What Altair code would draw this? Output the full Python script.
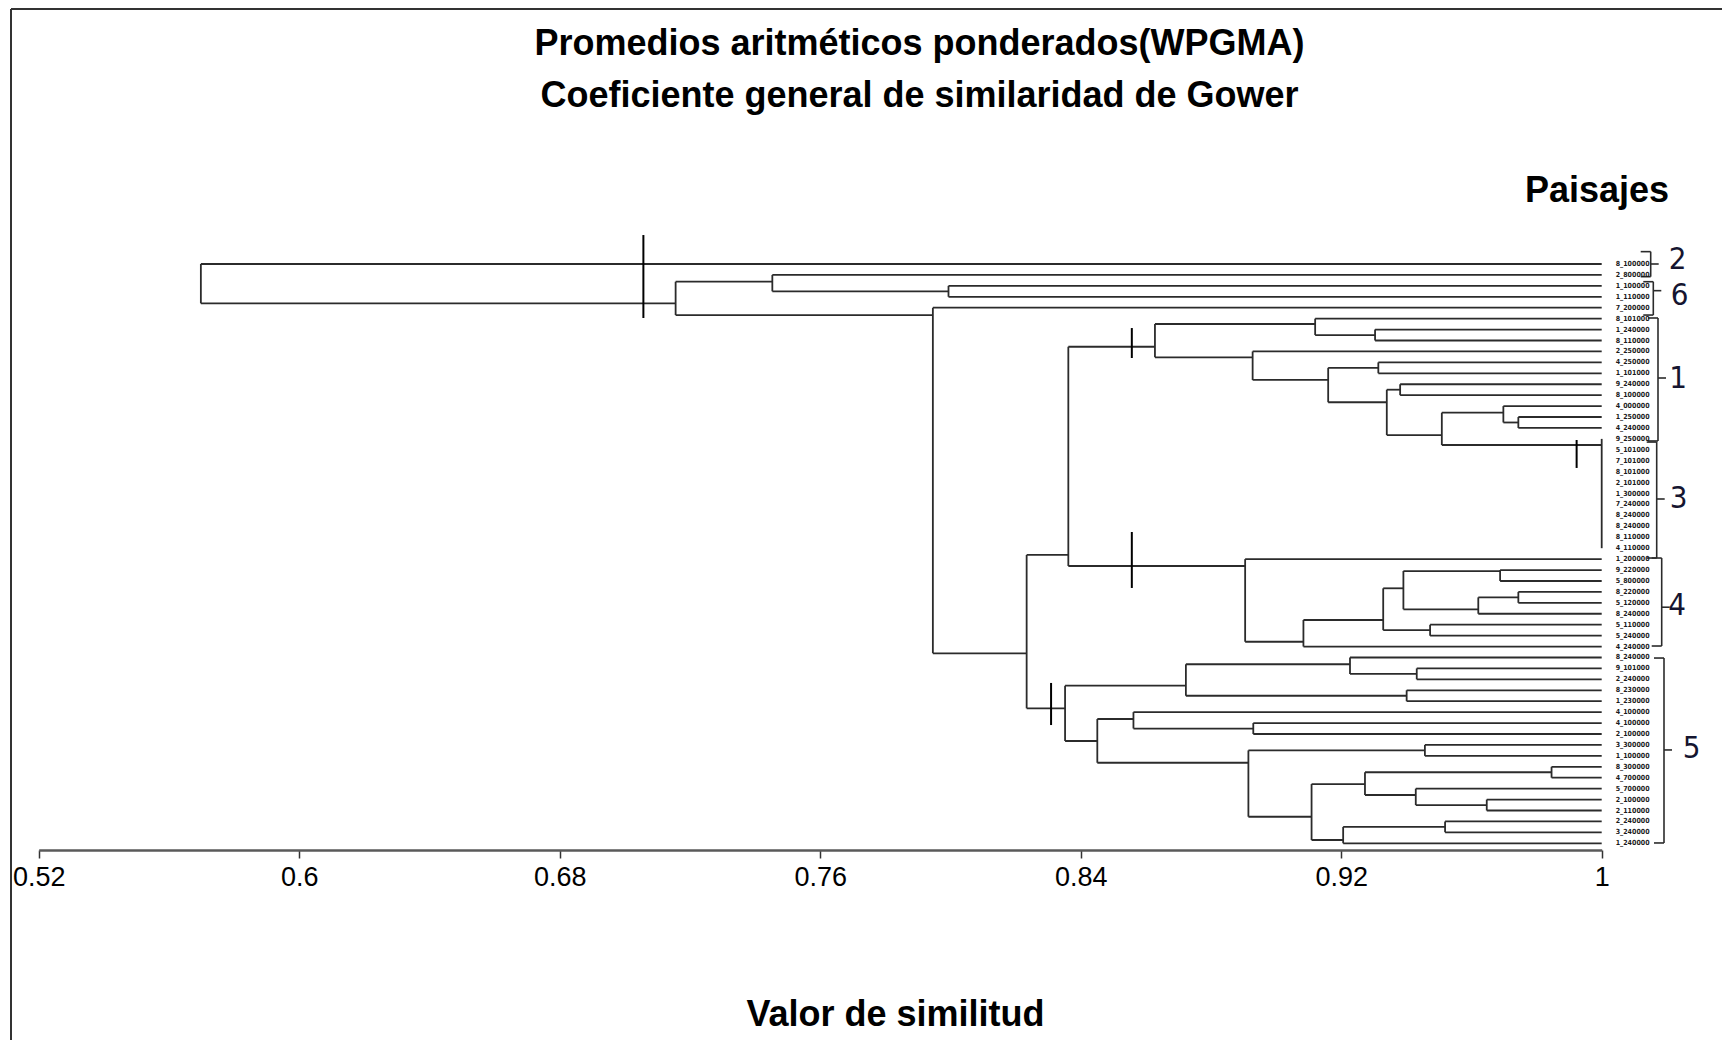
import altair as alt
import pandas as pd

# ---------------- data ----------------
title_lines = ["Promedios aritméticos ponderados(WPGMA)",
               "Coeficiente general de similaridad de Gower"]
x_title = "Valor de similitud"
legend_title = "Paisajes"
x_ticks = [0.52, 0.6, 0.68, 0.76, 0.84, 0.92, 1.0]

leaf_labels = [
    "8_100000", "2_800000", "1_100000", "1_110000", "7_200000", "8_101000",
    "1_240000", "8_110000", "2_250000", "4_250000", "1_101000", "9_240000",
    "8_100000", "4_000000", "1_250000", "4_240000", "9_250000", "5_101000",
    "7_101000", "8_101000", "2_101000", "1_300000", "7_240000", "8_240000",
    "8_240000", "8_110000", "4_110000", "1_200000", "9_220000", "5_800000",
    "8_220000", "5_120000", "8_240000", "5_110000", "5_240000", "4_240000",
    "8_240000", "9_101000", "2_240000", "8_230000", "1_230000", "4_100000",
    "4_100000", "2_100000", "3_300000", "1_100000", "8_300000", "4_700000",
    "5_700000", "2_100000", "2_110000", "2_240000", "3_240000", "1_240000",
]

# internal nodes: name, similarity level of the merge, children (leaf index or node),
# vertical position where the branch leaves the node (in leaf-row units)
node_names = ["root", "n1", "n2", "n3", "n4", "n5", "n6",
              "g13", "p1", "p2", "p3", "p4", "p5", "p6", "p7", "p8", "p9", "p10", "id3",
              "g4", "q1", "q2", "q3", "q4", "q5", "q6", "q7",
              "g5", "r1", "r2", "r3", "r4", "r5", "r6", "r7", "r8", "r9", "r10",
              "r11", "r12", "r13", "r14", "r15", "r16"]
node_heights = [0.5698, 0.7156, 0.7453, 0.7994, 0.7946, 0.8234, 0.8362,
                0.8628, 0.9120, 0.9304, 0.8928, 0.9160, 0.9314, 0.9340, 0.9381, 0.9509, 0.9698, 0.9744, 1.0,
                0.8905, 0.9084, 0.9329, 0.9391, 0.9688, 0.9621, 0.9744, 0.9473,
                0.8352, 0.8723, 0.9227, 0.9432, 0.9401, 0.8451, 0.8562, 0.8930, 0.8915, 0.9457, 0.9109,
                0.9273, 0.9846, 0.9429, 0.9647, 0.9206, 0.9519]
node_children = [[0, "n1"], ["n2", "n4"], [1, "n3"], [2, 3], [4, "n5"], ["n6", "g5"], ["g13", "g4"],
                 ["p1", "p3"], [5, "p2"], [6, 7], [8, "p4"], ["p5", "p6"], [9, 10], ["p7", "p8"],
                 [11, 12], ["p9", "id3"], [13, "p10"], [14, 15], list(range(16, 27)),
                 [27, "q1"], ["q2", 35], ["q3", "q7"], ["q4", "q5"], [28, 29], ["q6", 32], [30, 31], [33, 34],
                 ["r1", "r5"], ["r2", "r4"], [36, "r3"], [37, 38], [39, 40], ["r6", "r8"], [41, "r7"],
                 [42, 43], ["r9", "r10"], [44, 45], ["r11", "r15"], ["r12", "r13"], [46, 47],
                 [48, "r14"], [49, 50], ["r16", 53], [51, 52]]
node_ypos = [None, 3.6, 1.62, 2.5, 4.67, 35.62, 26.62,
             7.57, 5.49, 6.5, 8.54, 10.61, 9.5, 12.65, 11.5, 15.65, 13.6, 14.5, 16.56,
             27.63, 34.56, 32.57, 29.67, 28.09, 31.59, 30.5, 33.5,
             40.65, 38.58, 36.62, 37.5, 39.5, 43.64, 41.63, 42.5, 45.63, 44.5, 50.57,
             47.58, 46.5, 48.58, 49.5, 52.7, 51.5]

# cut marks (short vertical bars crossing branches)
cut_levels = [0.7057, 0.8557, 0.8557, 0.8309, 0.9923]
cut_from = [-2.65, 5.86, 24.52, 38.33, 16.1]
cut_to = [4.94, 8.6, 29.64, 42.18, 18.66]

# landscape groups (brackets on the right)
group_names = ["2", "6", "1", "3", "4", "5"]
group_top = [-1.13, 1.62, 4.94, 16.29, 26.9, 36.05]
group_bottom = [1.16, 4.67, 16.19, 26.9, 34.95, 52.97]
group_mid = [0.0, 2.44, 10.43, 21.5, 31.4, 44.46]
group_label_y = [-0.35, 2.9, 10.5, 21.5, 31.3, 44.4]

# ---------------- layout / style ----------------
X0_PX, X1_PX = 30.7, 1593.7           # pixel range for 0.52 .. 1.0
Y0_PX, Y1_PX = 256.0, 835.3           # pixel range for leaf rows 0 .. 53
PX_PER_UNIT = (X1_PX - X0_PX) / (x_ticks[-1] - x_ticks[0])
bracket_dx = [49, 51.6, 56.3, 55, 60, 62.3]     # px right of the leaf ends
label_dx = [76, 78, 76.3, 76.8, 75.3, 90]
HOOK, POINT = 10, 8

BOLD_FONT = "Liberation Sans"
NARROW_FONT = "'Liberation Sans Narrow', 'Arial Narrow', 'DejaVu Sans Condensed', sans-serif"
LINE = "#2b2b2b"

def pxv(px):
    return px / PX_PER_UNIT

# ---------------- build segments ----------------
pos = {i: (1.0, float(i)) for i in range(len(leaf_labels))}
for n, h, yp in zip(node_names, node_heights, node_ypos):
    pos[n] = (h, yp)

seg = []
for n, h, ch in zip(node_names, node_heights, node_children):
    ys = [pos[c][1] for c in ch]
    seg.append(dict(x=h, x2=h, y=min(ys), y2=max(ys)))
    for c in ch:
        cx, cy = pos[c]
        if abs(cx - h) > 1e-9:
            seg.append(dict(x=cx, x2=h, y=cy, y2=cy))
seg_df = pd.DataFrame(seg)

leaf_df = pd.DataFrame({"label": leaf_labels, "y": list(range(len(leaf_labels))),
                        "x": [1.0] * len(leaf_labels)})
cut_df = pd.DataFrame({"x": cut_levels, "y": cut_from, "y2": cut_to})

br = []
lab = []
for g, t, b, m, ly, bd, ld in zip(group_names, group_top, group_bottom, group_mid,
                                  group_label_y, bracket_dx, label_dx):
    bx = 1.0 + pxv(bd)
    br.append(dict(x=bx, x2=bx, y=t, y2=b))
    br.append(dict(x=bx - pxv(HOOK), x2=bx, y=t, y2=t))
    br.append(dict(x=bx - pxv(HOOK), x2=bx, y=b, y2=b))
    br.append(dict(x=bx, x2=bx + pxv(POINT), y=m, y2=m))
    lab.append(dict(name=g, x=1.0 + pxv(ld), y=ly))
br_df = pd.DataFrame(br)
lab_df = pd.DataFrame(lab)

# ---------------- scales & axis ----------------
xscale = alt.Scale(domain=[x_ticks[0], x_ticks[-1]], range=[X0_PX, X1_PX],
                   nice=False, zero=False)
yscale = alt.Scale(domain=[0, len(leaf_labels) - 1], range=[Y0_PX, Y1_PX],
                   nice=False, zero=False)
x_axis = alt.Axis(values=x_ticks, format="~g", title=x_title, grid=False,
                  domainColor="#5a5a5a", domainWidth=2.5, tickColor="#333333",
                  tickWidth=1.5, tickSize=8, labelFontSize=27, labelFont=BOLD_FONT,
                  labelColor="black", labelPadding=6, labelFlush=False,
                  labelOverlap=False, titleFont=BOLD_FONT, titleFontSize=36,
                  titleFontWeight="bold", titleColor="black", titleX=887, titleY=164,
                  titleBaseline="middle", titleAlign="center")

def X(f="x"):
    return alt.X(f"{f}:Q", scale=xscale, axis=x_axis)

def Y(f="y"):
    return alt.Y(f"{f}:Q", scale=yscale, axis=None)

tree = alt.Chart(seg_df).mark_rule(color=LINE, strokeWidth=1.8).encode(
    x=X(), x2="x2", y=Y(), y2="y2")
cuts = alt.Chart(cut_df).mark_rule(color="black", strokeWidth=2).encode(
    x=X(), y=Y(), y2="y2")
leaves = alt.Chart(leaf_df).mark_text(align="left", baseline="middle", dx=14,
                                      fontSize=7, fontWeight="bold", font=NARROW_FONT,
                                      color="#1a1a1a").encode(
    x=X(), y=Y(), text="label:N")
brackets = alt.Chart(br_df).mark_rule(color=LINE, strokeWidth=1.6).encode(
    x=X(), x2="x2", y=Y(), y2="y2")
glabels = alt.Chart(lab_df).mark_text(align="center", baseline="middle", fontSize=31,
                                      font=NARROW_FONT, color="#151530").encode(
    x=X(), y=Y(), text="name:N")

one = pd.DataFrame({"t": ["\n".join(title_lines)]})
title = alt.Chart(one).mark_text(align="center", baseline="middle", fontSize=36,
                                 fontWeight="bold", font=BOLD_FONT, lineBreak="\n",
                                 lineHeight=52, color="black").encode(
    x=alt.value(911.5), y=alt.value(36), text="t:N")
ptitle = alt.Chart(pd.DataFrame({"t": [legend_title]})).mark_text(
    align="center", baseline="middle", fontSize=36, fontWeight="bold",
    font=BOLD_FONT, color="black").encode(x=alt.value(1589), y=alt.value(183), text="t:N")

frame_left = alt.Chart(pd.DataFrame({"a": [0]})).mark_rule(
    color="#333333", strokeWidth=2).encode(x=alt.value(3), y=alt.value(1), y2=alt.value(1032))
frame_top = alt.Chart(pd.DataFrame({"a": [0]})).mark_rule(
    color="#333333", strokeWidth=2).encode(x=alt.value(3), x2=alt.value(1714), y=alt.value(1))

chart = alt.layer(tree, cuts, brackets, leaves, glabels, title, ptitle,
                  frame_left, frame_top).properties(
    width=1714, height=842,
    autosize=alt.AutoSizeParams(type="none"),
    padding={"left": 0, "top": 0, "right": 0, "bottom": 190},
    background="white",
).configure_view(stroke=None)

chart.save("out.html", embed_options={"renderer": "svg", "actions": False})
